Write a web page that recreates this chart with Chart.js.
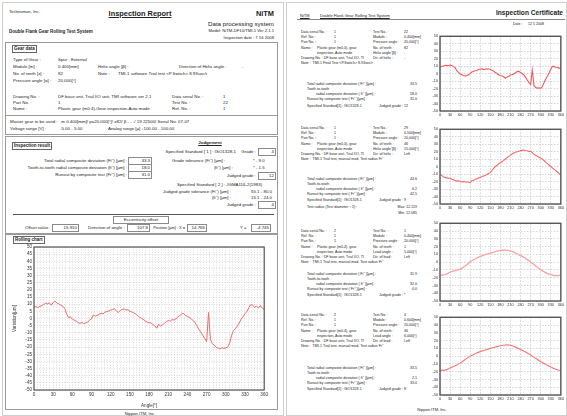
<!DOCTYPE html>
<html>
<head>
<meta charset="utf-8">
<script src="https://cdn.jsdelivr.net/npm/chart.js@4.4.0/dist/chart.umd.min.js"></script>
<style>
html, body { margin: 0; padding: 0; background: #fff; }
body { width: 567px; height: 416px; position: relative; overflow: hidden; font-family: "Liberation Sans", Arial, sans-serif; color: #222; }
.pg { position: absolute; border: 1px solid #cfcfcf; }
.box { position: absolute; border: 1px solid #9a9a9a; }
.hl { position: absolute; height: 0; border-top: 1px solid #555; }
.t { position: absolute; white-space: nowrap; line-height: 1; }
.L { font-size: 4.4px; }
.R { font-size: 3.6px; }
.b { font-weight: bold; }
.u { text-decoration: underline; }
.ra { transform: translateX(-100%); }
.ca { transform: translateX(-50%); }
.lab { position: absolute; border: 1px solid #666; font-size: 4.5px; font-weight: bold; line-height: 6px; padding: 0 1px; background: #fff; white-space: nowrap; }
.vb { position: absolute; border: 1px solid #8a8a8a; font-size: 4.4px; line-height: 6px; height: 6px; text-align: right; padding-right: 1px; box-sizing: content-box; white-space: nowrap; }
.sec { position: absolute; left: 0; width: 567px; height: 0; }
.cv { position: absolute; }
</style>
</head>
<body>

<!-- left page -->
<div class="pg" style="left:2px;top:2px;width:280px;height:412px"></div>
<div class="t L" style="left:9px;top:10px;font-size:4.2px">Technoman, Inc.</div>
<div class="t b u ca" style="left:140px;top:10px;font-size:7.4px">Inspection Report</div>
<div class="t b ra" style="left:274px;top:10px;font-size:7.4px">NiTM</div>
<div class="t b" style="left:9px;top:30px;font-size:4.5px">Double Flank Gear Rolling Test System</div>
<div class="t ra" style="left:274px;top:21px;font-size:6.2px">Data processing system</div>
<div class="t ra" style="left:274px;top:29px;font-size:4.2px">Model: NiTM-DF10/TMI-1 Ver 2.1.1</div>
<div class="t ra" style="left:274px;top:36px;font-size:4.2px">Inspection date : 7 16 2008</div>

<div class="box" style="left:5px;top:42px;width:271px;height:91px"></div>
<div class="lab" style="left:12px;top:45px">Gear data</div>
<div class="t L" style="left:13px;top:58px">Type of Gear :</div>
<div class="t L" style="left:58px;top:58px">Spur : External</div>
<div class="t L" style="left:13px;top:65px">Module [m] :</div>
<div class="t L" style="left:58px;top:65px">0.400[mm]</div>
<div class="t L" style="left:98px;top:65px">Helix angle [β] :</div>
<div class="t L" style="left:122px;top:65px">-</div>
<div class="t L" style="left:179px;top:65px">Direction of Helix angle :</div>
<div class="t L" style="left:242px;top:65px">-</div>
<div class="t L" style="left:13px;top:72px">No. of teeth [z] :</div>
<div class="t L" style="left:58px;top:72px">82</div>
<div class="t L" style="left:98px;top:72px">Note :</div>
<div class="t L" style="left:118px;top:72px">TMI-1 software Trial test &lt;P.Switch&gt; 8.93sec/r</div>
<div class="t L" style="left:13px;top:79px">Pressure angle [α] :</div>
<div class="t L" style="left:58px;top:79px">20.000[°]</div>
<div class="t L" style="left:13px;top:95px">Drawing No. :</div>
<div class="t L" style="left:58px;top:95px">DF base unit, Trial I/O unit, TMI software ver 2.1</div>
<div class="t L" style="left:172px;top:95px">Data serial No. :</div>
<div class="t L" style="left:223px;top:95px">1</div>
<div class="t L" style="left:13px;top:101px">Part No. :</div>
<div class="t L" style="left:58px;top:101px">1</div>
<div class="t L" style="left:172px;top:101px">Test No. :</div>
<div class="t L" style="left:223px;top:101px">22</div>
<div class="t L" style="left:13px;top:107px">Name :</div>
<div class="t L" style="left:58px;top:107px">Plastic gear (m0.4)-Gear inspection-Auto mode</div>
<div class="t L" style="left:172px;top:107px">Ref. No. :</div>
<div class="t L" style="left:223px;top:107px">1</div>
<div class="hl" style="left:5px;top:115px;width:272px;border-color:#9a9a9a"></div>
<div class="t L" style="left:10px;top:120px">Master gear to be used :&nbsp;&nbsp;&nbsp;m 0.400[mm]/ pa20.000[°]/ z82/ β - - -/ 19.22500/ Serial No. 07-07</div>
<div class="t L" style="left:10px;top:127px">Voltage range [V] :</div>
<div class="t L" style="left:60px;top:127px">-5.00 - 5.00</div>
<div class="t L" style="left:108px;top:127px">Analog range [μ] :</div>
<div class="t L" style="left:142px;top:127px">-100.00 - 100.00</div>

<div class="box" style="left:5px;top:136px;width:271px;height:96px"></div>
<div class="lab" style="left:12px;top:142px">Inspection result</div>
<div class="t b u ca L" style="left:210px;top:141px">Judgement</div>
<div class="t L ra" style="left:236px;top:150px">Specified Standard [ 1 ] : ISO1328-1</div>
<div class="t L ra" style="left:256px;top:150px">Grade :</div>
<div class="vb" style="left:258px;top:148px;width:15px">4</div>
<div class="t L ra" style="left:127px;top:159px">Total radial composite deviation (Fi'') [μm] :</div>
<div class="vb" style="left:128px;top:157px;width:21px">33.3</div>
<div class="t L" style="left:172px;top:159px">Grade tolerance (Fi'') [μm] :</div>
<div class="t L" style="left:253px;top:159px">* - 9.0</div>
<div class="t L ra" style="left:127px;top:166px">Tooth-to-tooth radial composite deviation (fi'') [μm] :</div>
<div class="vb" style="left:128px;top:164px;width:21px">18.0</div>
<div class="t L ra" style="left:233px;top:166px">(fi'') [μm] :</div>
<div class="t L" style="left:253px;top:166px">* - 1.5</div>
<div class="t L ra" style="left:127px;top:173px">Runout by composite test (Fr'') [μm] :</div>
<div class="vb" style="left:128px;top:171px;width:21px">31.0</div>
<div class="t L ra" style="left:256px;top:174px">Judged grade :</div>
<div class="vb" style="left:258px;top:172px;width:15px">12</div>
<div class="t L" style="left:177px;top:183px">Specified Standard [ 2 ] : JGMA116-2(1983)</div>
<div class="t L ra" style="left:231px;top:190px">Judged grade tolerance (Fi'') [μm] :</div>
<div class="t L" style="left:251px;top:190px">55.1 - 80.0</div>
<div class="t L ra" style="left:231px;top:196px">(fi'') [μm] :</div>
<div class="t L" style="left:251px;top:196px">15.1 - 24.0</div>
<div class="t L ra" style="left:256px;top:203px">Judged grade :</div>
<div class="vb" style="left:258px;top:201px;width:15px">4</div>
<div class="hl" style="left:13px;top:214px;width:261px"></div>
<div class="vb" style="left:113px;top:216px;width:54px;text-align:center;padding:0">Eccentricity offset</div>
<div class="t L" style="left:25px;top:226px">Offset value</div>
<div class="vb" style="left:52px;top:224px;width:24px">15.910</div>
<div class="t L" style="left:88px;top:226px">Direction of angle :</div>
<div class="vb" style="left:127px;top:224px;width:20px">107.8</div>
<div class="t ra" style="left:185px;top:226px;font-size:3.9px">Position [μm] :&nbsp;X =</div>
<div class="vb" style="left:187px;top:224px;width:17px">14.766</div>
<div class="t L" style="left:240px;top:226px">Y =</div>
<div class="vb" style="left:251px;top:224px;width:17px">-4.745</div>

<div class="box" style="left:5px;top:234px;width:271px;height:174px"></div>
<div class="lab" style="left:13px;top:236px">Rolling chart</div>
<div class="cv" style="left:12px;top:242px;width:258px;height:166px"><canvas id="rolling"></canvas></div>
<div class="t ca" style="left:140px;top:412px;font-size:4.2px">Nippon ITM, Inc.</div>

<!-- right page -->
<div class="pg" style="left:286px;top:2px;width:279px;height:412px"></div>
<div class="t u" style="left:300px;top:14px;font-size:4px">NiTM</div>
<div class="t u" style="left:320px;top:14px;font-size:4px">Double Flank Gear Rolling Test System</div>
<div class="t b ra" style="left:563px;top:10px;font-size:6.6px">Inspection Certificate</div>
<div class="hl" style="left:297px;top:19px;width:268px;border-color:#888"></div>
<div class="t R" style="left:513px;top:23px">Date :</div>
<div class="t R" style="left:528px;top:23px">12 5 2008</div>

<div class="sec" style="top:31px">
  <div class="t R" style="left:301px;top:0">Data serial No. :</div><div class="t R" style="left:334px;top:0">1</div>
  <div class="t R" style="left:373px;top:0">Test No. :</div><div class="t R" style="left:404px;top:0">22</div>
  <div class="t R" style="left:301px;top:5.2px">Ref. No. :</div><div class="t R" style="left:334px;top:5.2px">1</div>
  <div class="t R" style="left:373px;top:5.2px">Module :</div><div class="t R" style="left:404px;top:5.2px">0.400[mm]</div>
  <div class="t R" style="left:301px;top:10.4px">Part No. :</div><div class="t R" style="left:334px;top:10.4px">1</div>
  <div class="t R" style="left:373px;top:10.4px">Pressure angle :</div><div class="t R" style="left:404px;top:10.4px">20.000[°]</div>
  <div class="t R" style="left:301px;top:15.6px">Name :</div><div class="t R" style="left:317px;top:15.6px">Plastic gear (m0.4), gear</div>
  <div class="t R" style="left:373px;top:15.6px">No. of teeth :</div><div class="t R" style="left:404px;top:15.6px">82</div>
  <div class="t R" style="left:317px;top:20.6px">inspection, Auto mode</div>
  <div class="t R" style="left:373px;top:20.6px">Helix angle [β] :</div><div class="t R" style="left:404px;top:20.6px">-</div>
  <div class="t R" style="left:301px;top:25.8px">Drawing No. : DF base unit, Trial I/O, TI</div>
  <div class="t R" style="left:373px;top:25.8px">Dir. of helix :</div><div class="t R" style="left:404px;top:25.8px">-</div>
  <div class="t R" style="left:301px;top:31px">Note :&nbsp;&nbsp;TMI-1 Final Test &lt;P.Switch&gt; 8.93sec/r</div>
  <div class="t R" style="left:307px;top:52px">Total radial composite deviation ( Fi'' )[μm] :</div><div class="t R ra" style="left:417px;top:52px">33.5</div>
  <div class="t R" style="left:307px;top:57px">Tooth-to-tooth</div>
  <div class="t R" style="left:316px;top:62px">radial composite deviation ( fi'' )[μm] :</div><div class="t R ra" style="left:417px;top:62px">18.0</div>
  <div class="t R" style="left:307px;top:67px">Runout by composite test ( Fr'' )[μm] :</div><div class="t R ra" style="left:417px;top:67px">31.0</div>
  <div class="t R" style="left:307px;top:74px">Specified Standard[1] : ISO1328-1</div><div class="t R" style="left:379px;top:74px">Judged grade : 12</div>
</div>

<div class="sec" style="top:127px">
  <div class="t R" style="left:301px;top:0">Data serial No. :</div><div class="t R" style="left:334px;top:0">1</div>
  <div class="t R" style="left:373px;top:0">Test No. :</div><div class="t R" style="left:404px;top:0">29</div>
  <div class="t R" style="left:301px;top:5.2px">Ref. No. :</div><div class="t R" style="left:334px;top:5.2px">1</div>
  <div class="t R" style="left:373px;top:5.2px">Module :</div><div class="t R" style="left:404px;top:5.2px">0.500[mm]</div>
  <div class="t R" style="left:301px;top:10.4px">Part No. :</div><div class="t R" style="left:334px;top:10.4px">1</div>
  <div class="t R" style="left:373px;top:10.4px">Pressure angle :</div><div class="t R" style="left:404px;top:10.4px">20.000[°]</div>
  <div class="t R" style="left:301px;top:15.6px">Name :</div><div class="t R" style="left:317px;top:15.6px">Plastic gear (m0.4), gear</div>
  <div class="t R" style="left:373px;top:15.6px">No. of teeth :</div><div class="t R" style="left:404px;top:15.6px">46</div>
  <div class="t R" style="left:317px;top:20.6px">inspection, Auto mode</div>
  <div class="t R" style="left:373px;top:20.6px">Helix angle [β] :</div><div class="t R" style="left:404px;top:20.6px">15.000[°]</div>
  <div class="t R" style="left:301px;top:25.8px">Drawing No. : DF base unit, Trial I/O, TI</div>
  <div class="t R" style="left:373px;top:25.8px">Dir. of helix :</div><div class="t R" style="left:404px;top:25.8px">Left</div>
  <div class="t R" style="left:301px;top:31px">Note :&nbsp;&nbsp;TMI-1 Trial test, manual mod, Test radius Fr''</div>
  <div class="t R" style="left:307px;top:51px">Total radial composite deviation ( Fi'' )[μm] :</div><div class="t R ra" style="left:417px;top:51px">44.6</div>
  <div class="t R" style="left:307px;top:56px">Tooth-to-tooth</div>
  <div class="t R" style="left:316px;top:61px">radial composite deviation ( fi'' )[μm] :</div><div class="t R ra" style="left:417px;top:61px">6.2</div>
  <div class="t R" style="left:307px;top:66px">Runout by composite test ( Fr'' )[μm] :</div><div class="t R ra" style="left:417px;top:66px">42.5</div>
  <div class="t R" style="left:307px;top:72px">Specified Standard[1] : ISO1328-1</div><div class="t R" style="left:379px;top:72px">Judged grade : 9</div>
  <div class="t R" style="left:307px;top:79px">Test radius (Test diameter ÷ 2) :</div><div class="t R ra" style="left:417px;top:79px">Max: 12.119</div>
  <div class="t R ra" style="left:417px;top:85px">Min: 12.085</div>
</div>

<div class="sec" style="top:230px">
  <div class="t R" style="left:301px;top:0">Data serial No. :</div><div class="t R" style="left:334px;top:0">2</div>
  <div class="t R" style="left:373px;top:0">Test No. :</div><div class="t R" style="left:404px;top:0">1</div>
  <div class="t R" style="left:301px;top:5.2px">Ref. No. :</div><div class="t R" style="left:334px;top:5.2px">1</div>
  <div class="t R" style="left:373px;top:5.2px">Module :</div><div class="t R" style="left:404px;top:5.2px">0.400[mm]</div>
  <div class="t R" style="left:301px;top:10.4px">Part No. :</div><div class="t R" style="left:334px;top:10.4px">1</div>
  <div class="t R" style="left:373px;top:10.4px">Pressure angle :</div><div class="t R" style="left:404px;top:10.4px">20.000[°]</div>
  <div class="t R" style="left:301px;top:15.6px">Name :</div><div class="t R" style="left:317px;top:15.6px">Plastic gear (m0.4), gear</div>
  <div class="t R" style="left:373px;top:15.6px">No. of teeth :</div><div class="t R" style="left:404px;top:15.6px">1</div>
  <div class="t R" style="left:317px;top:20.6px">inspection, Auto mode</div>
  <div class="t R" style="left:373px;top:20.6px">Lead angle :</div><div class="t R" style="left:404px;top:20.6px">5.000[°]</div>
  <div class="t R" style="left:301px;top:25.8px">Drawing No. : DF base unit, Trial I/O, TI</div>
  <div class="t R" style="left:373px;top:25.8px">Dir. of lead :</div><div class="t R" style="left:404px;top:25.8px">Left</div>
  <div class="t R" style="left:301px;top:31px">Note :&nbsp;&nbsp;TMI-1 Trial test, manual mod, Test radius Fr''</div>
  <div class="t R" style="left:307px;top:43px">Total radial composite deviation ( Fi'' )[μm] :</div><div class="t R ra" style="left:417px;top:43px">31.9</div>
  <div class="t R" style="left:307px;top:48px">Tooth-to-tooth</div>
  <div class="t R" style="left:316px;top:53px">radial composite deviation ( fi'' )[μm] :</div><div class="t R ra" style="left:417px;top:53px">32.0</div>
  <div class="t R" style="left:307px;top:58px">Runout by composite test ( Fr'' )[μm] :</div><div class="t R ra" style="left:417px;top:58px">0.0</div>
  <div class="t R" style="left:307px;top:64px">Specified Standard[1] : ISO1328-1</div><div class="t R" style="left:379px;top:64px">Judged grade : *</div>
</div>

<div class="sec" style="top:314px">
  <div class="t R" style="left:301px;top:0">Data serial No. :</div><div class="t R" style="left:334px;top:0">2</div>
  <div class="t R" style="left:373px;top:0">Test No. :</div><div class="t R" style="left:404px;top:0">4</div>
  <div class="t R" style="left:301px;top:5.2px">Ref. No. :</div><div class="t R" style="left:334px;top:5.2px">1</div>
  <div class="t R" style="left:373px;top:5.2px">Module :</div><div class="t R" style="left:404px;top:5.2px">0.600[mm]</div>
  <div class="t R" style="left:301px;top:10.4px">Part No. :</div><div class="t R" style="left:334px;top:10.4px">1</div>
  <div class="t R" style="left:373px;top:10.4px">Pressure angle :</div><div class="t R" style="left:404px;top:10.4px">20.000[°]</div>
  <div class="t R" style="left:301px;top:15.6px">Name :</div><div class="t R" style="left:317px;top:15.6px">Plastic gear (m0.4), gear</div>
  <div class="t R" style="left:373px;top:15.6px">No. of teeth :</div><div class="t R" style="left:404px;top:15.6px">36</div>
  <div class="t R" style="left:317px;top:20.6px">inspection, Auto mode</div>
  <div class="t R" style="left:373px;top:20.6px">Lead angle :</div><div class="t R" style="left:404px;top:20.6px">6.000[°]</div>
  <div class="t R" style="left:301px;top:25.8px">Drawing No. : DF base unit, Trial I/O, TI</div>
  <div class="t R" style="left:373px;top:25.8px">Dir. of lead :</div><div class="t R" style="left:404px;top:25.8px">Left</div>
  <div class="t R" style="left:301px;top:31px">Note :&nbsp;&nbsp;TMI-1 Trial test, manual mod, Test radius Fr''</div>
  <div class="t R" style="left:307px;top:53px">Total radial composite deviation ( Fi'' )[μm] :</div><div class="t R ra" style="left:417px;top:53px">33.5</div>
  <div class="t R" style="left:307px;top:58px">Tooth-to-tooth</div>
  <div class="t R" style="left:316px;top:63px">radial composite deviation ( fi'' )[μm] :</div><div class="t R ra" style="left:417px;top:63px">2.1</div>
  <div class="t R" style="left:307px;top:68px">Runout by composite test ( Fr'' )[μm] :</div><div class="t R ra" style="left:417px;top:68px">33.0</div>
  <div class="t R" style="left:307px;top:74px">Specified Standard[1] : ISO1328-1</div><div class="t R" style="left:379px;top:74px">Judged grade : 8</div>
</div>
<div class="t ca" style="left:432px;top:408px;font-size:4px">Nippon ITM, Inc.</div>

<div class="cv" style="left:428px;top:32px;width:138px;height:87px"><canvas id="cert1"></canvas></div>
<div class="cv" style="left:428px;top:125px;width:138px;height:87px"><canvas id="cert2"></canvas></div>
<div class="cv" style="left:428px;top:219px;width:138px;height:90px"><canvas id="cert3"></canvas></div>
<div class="cv" style="left:428px;top:313px;width:138px;height:90px"><canvas id="cert4"></canvas></div>

<script>
// rolling chart, test 22 (one reading every 3 degrees, 0..360)
const rollStep = 3;
const rollValues = [
  7.8, 8.3, 7.6, 8.5, 8.9, 9.8, 10.6, 10.2, 10.9, 9.3,
  11.2, 12.0, 10.8, 10.1, 9.4, 8.6, 7.2, 3.5, 0.4, 1.2,
  -0.5, -1.2, -1.8, -2.9, -3.4, -2.7, -3.6, -3.1, -2.4, -1.2,
  -0.2, 2.6, 1.6, 2.2, 3.1, 3.6, 3.3, 4.4, 4.9, 5.3,
  5.8, 6.4, 6.9, 5.2, 4.3, 5.6, 6.4, 6.8, 5.9, 6.2,
  5.0, 4.6, 3.9, 3.2, 2.1, 0.9, 0.2, -0.6, -1.8, -2.6,
  -3.1, -3.0, -4.2, -5.2, -6.8, -4.1, -5.3, -4.6, -3.2, -2.3,
  -1.4, -1.9, -0.8, -1.1, -0.2, 1.0, 2.1, 3.2, 3.6, 2.0,
  1.4, 0.8, -0.2, -1.6, -3.0, -5.2, -7.8, -9.6, -11.8, -13.9,
  -16.2, 4.2, -14.8, -17.6, -18.6, -20.1, -20.7, -21.3, -20.4, -21.0,
  -20.6, -19.8, -17.2, -11.8, -8.4, -7.1, -5.3, -3.2, -0.4, 1.2,
  3.4, 4.8, 7.6, 9.8, 9.2, 7.9, 8.6, 7.4, 9.1, 7.2,
  6.5
];

// certificate charts (readings every 5 or 15 degrees)
const cert1Step = 5;
const cert1Values = [
  9.0, 9.5, 10.2, 10.8, 11.2, 10.6, 11.6, 11.0, 9.4, 8.2,
  4.0, 1.8, -0.4, -1.6, -2.6, -3.0, -2.8, -1.6, 0.4, 2.2,
  3.2, 3.8, 4.6, 5.6, 6.2, 6.6, 5.4, 5.8, 6.6, 6.2,
  5.8, 4.4, 3.2, 1.4, 0.2, -1.4, -2.6, -3.2, -4.2, -6.2,
  -4.4, -3.4, -1.8, -1.2, -0.4, 1.2, 2.8, 3.2, 1.6, 0.2,
  -1.8, -5.0, -8.6, -12.0, -14.6, 4.8, -16.2, -18.6, -19.4, -19.0,
  -19.6, -17.4, -11.8, -7.2, -3.2, 1.2, 5.6, 9.8, 9.4, 8.6,
  8.2, 7.4, 5.8
];
const cert2Step = 5;
const cert2Values = [
  -9.6, -11.8, -13.6, -14.4, -15.0, -15.6, -15.2, -16.8, -17.6, -18.6,
  -19.4, -19.0, -19.8, -20.4, -20.0, -20.6, -20.2, -20.8, -21.4, -18.8,
  -18.2, -17.0, -16.4, -15.0, -14.4, -13.2, -12.4, -11.6, -10.6, -9.2,
  -8.0, -5.2, -2.4, 0.2, 1.8, 3.8, 5.2, 6.8, 8.4, 10.2,
  12.0, 13.8, 15.4, 16.8, 18.2, 19.2, 20.0, 20.6, 21.4, 21.8,
  22.2, 21.6, 21.2, 20.4, 20.6, 18.8, 16.6, 15.2, 14.0, 12.6,
  11.6, 9.8, 8.2, 5.8, 4.0, 2.2, 0.2, -1.8, -3.6, -5.4,
  -7.2, -9.4, -11.6
];
const cert3Step = 15;
const cert3Values = [
  -17.0, -16.2, -13.0, -11.0, -9.0, -5.0, 0.4, 4.4, 7.4, 9.6,
  11.6, 13.6, 15.0, 15.4, 14.4, 11.8, 8.4, 4.8, 0.2, -4.8,
  -9.6, -13.4, -16.0, -17.4, -16.8
];
const cert4Step = 15;
const cert4Values = [
  -18.4, -18.0, -15.4, -12.4, -9.0, -4.4, 0.0, 3.2, 5.8, 8.0,
  10.0, 11.8, 13.4, 14.4, 14.0, 11.6, 8.6, 5.2, 1.4, -2.8,
  -7.0, -10.6, -14.0, -16.8, -19.0
];

const angleMin = 0, angleMax = 360, angleLabelStep = 30;
const rollYMin = -50, rollYMax = 50, rollYStep = 5;
const certYMin = -50, certYMax = 50, certYStep = 10;

const toPoints = (step, values) => values.map((v, i) => ({ x: i * step, y: v }));

// plot frame drawn round the chart area
const framePlugin = {
    id: 'frame',
    afterDraw(chart, args, opts) {
        const { ctx, chartArea: a } = chart;
        ctx.save();
        ctx.strokeStyle = opts.color;
        ctx.lineWidth = opts.width;
        ctx.strokeRect(a.left, a.top, a.right - a.left, a.bottom - a.top);
        ctx.restore();
    }
};
Chart.register(framePlugin);

const fontFamily = '"Liberation Sans", Arial, sans-serif';

// left page rolling chart
new Chart(document.getElementById('rolling'), {
    type: 'line',
    data: {
        datasets: [{
            data: toPoints(rollStep, rollValues),
            borderColor: '#f06a6a',
            borderWidth: 1,
            pointRadius: 0,
            tension: 0
        }]
    },
    options: {
        responsive: true,
        maintainAspectRatio: false,
        animation: false,
        layout: { padding: { top: 5, right: 4, left: 0, bottom: 0 } },
        plugins: { legend: { display: false }, tooltip: { enabled: false }, frame: { color: '#333', width: 1 } },
        scales: {
            x: {
                type: 'linear', min: angleMin, max: angleMax,
                afterFit: s => { s.height = 18; },
                ticks: {
                    stepSize: 5, autoSkip: false, maxRotation: 0, padding: 2,
                    color: '#333', font: { size: 4.6, family: fontFamily },
                    callback: v => (v % angleLabelStep === 0 ? v : '')
                },
                grid: { color: '#c8c8c8', lineWidth: 0.6, drawTicks: false },
                border: { display: false, dash: [1, 1.5] },
                title: { display: true, text: 'Angle[°]', color: '#333', padding: 0, font: { size: 4.6, family: fontFamily } }
            },
            y: {
                min: rollYMin, max: rollYMax,
                afterFit: s => { s.width = 22; },
                ticks: { stepSize: rollYStep, autoSkip: false, padding: 2, color: '#333', font: { size: 4.6, family: fontFamily } },
                grid: { color: '#c8c8c8', lineWidth: 0.6, drawTicks: false },
                border: { display: false, dash: [1, 1.5] },
                title: { display: true, text: 'Variation[μm]', color: '#333', padding: 0, font: { size: 4.6, family: fontFamily } }
            }
        }
    }
});

// right page certificate charts
const certChart = (id, step, values, color, width, tension) => {
    new Chart(document.getElementById(id), {
        type: 'line',
        data: {
            datasets: [{
                data: toPoints(step, values),
                borderColor: color,
                borderWidth: width,
                pointRadius: 0,
                tension: tension
            }]
        },
        options: {
            responsive: true,
            maintainAspectRatio: false,
            animation: false,
            layout: { padding: { top: 1, right: 2, left: 0, bottom: 0 } },
            plugins: { legend: { display: false }, tooltip: { enabled: false }, frame: { color: '#555', width: 1.4 } },
            scales: {
                x: {
                    type: 'linear', min: angleMin, max: angleMax,
                    afterFit: s => { s.height = 8; },
                    ticks: { stepSize: angleLabelStep, autoSkip: false, maxRotation: 0, padding: 2, color: '#333', font: { size: 3.8, family: fontFamily } },
                    grid: { color: '#b8b8b8', lineWidth: 0.6, drawTicks: false },
                    border: { display: false, dash: [1.5, 1.5] }
                },
                y: {
                    min: certYMin, max: certYMax,
                    afterFit: s => { s.width = 12; },
                    ticks: { stepSize: certYStep, autoSkip: false, padding: 2, color: '#333', font: { size: 3.8, family: fontFamily } },
                    grid: { color: '#b8b8b8', lineWidth: 0.6, drawTicks: false },
                    border: { display: false, dash: [1.5, 1.5] }
                }
            }
        }
    });
};

certChart('cert1', cert1Step, cert1Values, '#f25a5a', 1.1, 0);
certChart('cert2', cert2Step, cert2Values, '#f46a6a', 1.1, 0);
certChart('cert3', cert3Step, cert3Values, '#f7a3a3', 1.3, 0.4);
certChart('cert4', cert4Step, cert4Values, '#f27777', 1.1, 0.4);
</script>
</body>
</html>
